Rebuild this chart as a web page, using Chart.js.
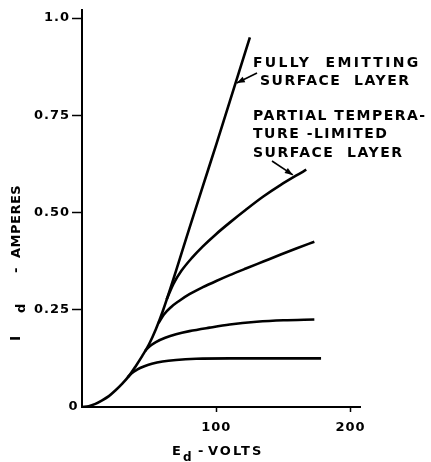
<!DOCTYPE html>
<html>
<head>
<meta charset="utf-8">
<script src="https://cdn.jsdelivr.net/npm/chart.js@4/dist/chart.umd.min.js"></script>
<style>
html,body{margin:0;padding:0;background:#fff;}
canvas{display:block;}
</style>
</head>
<body>
<canvas id="c" width="431" height="462"></canvas>
<script>
// ---- data ----
const voltsFull = [0, 5, 10, 15, 20, 25, 30, 35, 40, 45, 50, 55, 60, 70, 80, 90, 100, 110, 125];
const ampsFull  = [0, 0.002, 0.008, 0.017, 0.028, 0.043, 0.060, 0.080, 0.105, 0.132, 0.162, 0.200, 0.245, 0.350, 0.460, 0.568, 0.675, 0.785, 0.950];

const volts1 = [34, 37, 41, 46, 52, 60, 70, 85, 110, 178];
const amps1  = [0.076, 0.087, 0.096, 0.104, 0.111, 0.117, 0.121, 0.124, 0.125, 0.125];

const volts2 = [47, 50, 55, 62, 70, 80, 95, 110, 130, 150, 173];
const amps2  = [0.144, 0.155, 0.167, 0.178, 0.187, 0.195, 0.204, 0.212, 0.219, 0.223, 0.225];

const volts3 = [57, 61, 66, 72, 80, 90, 100, 110, 122, 135, 148, 160, 173];
const amps3  = [0.216, 0.238, 0.256, 0.272, 0.290, 0.308, 0.324, 0.339, 0.356, 0.374, 0.392, 0.408, 0.425];

const volts4 = [63, 68, 74, 82, 90, 100, 110, 122, 135, 148, 160, 167];
const amps4  = [0.276, 0.316, 0.350, 0.384, 0.413, 0.445, 0.474, 0.507, 0.541, 0.571, 0.596, 0.610];

const yTickValues = [0, 0.25, 0.5, 0.75, 1.0];
const yTickLabels = ['0', '0.25', '0.50', '0.75', '1.0'];
const xTickValues = [0, 100, 200];
const xTickLabels = ['', '100', '200'];

const annotationFully = ['FULLY  EMITTING', 'SURFACE  LAYER'];
const annotationPartial = ['PARTIAL TEMPERA-', 'TURE -LIMITED', 'SURFACE  LAYER'];
const arrowFullyTip = [114.5, 0.833];
const arrowPartialTip = [157, 0.594];

const xTitleParts = ['E', 'd', '-', 'VOLTS'];
const yTitleParts = ['I', 'd', '-', 'AMPERES'];

// ---- chart ----
const FONT = "'DejaVu Sans', sans-serif";
const toPts = (xs, ys) => xs.map((x, i) => ({x: x, y: ys[i]}));
const lineDs = (xs, ys) => ({
  data: toPts(xs, ys),
  borderColor: '#000',
  borderWidth: 2.6,
  pointRadius: 0,
  fill: false,
  cubicInterpolationMode: 'monotone'
});

function drawArrow(ctx, x0, y0, x1, y1) {
  ctx.beginPath();
  ctx.moveTo(x0, y0);
  ctx.lineTo(x1, y1);
  ctx.lineWidth = 1.6;
  ctx.stroke();
  const a = Math.atan2(y1 - y0, x1 - x0);
  const L = 8, W = 3;
  ctx.beginPath();
  ctx.moveTo(x1, y1);
  ctx.lineTo(x1 - L * Math.cos(a) + W * Math.sin(a), y1 - L * Math.sin(a) - W * Math.cos(a));
  ctx.lineTo(x1 - L * Math.cos(a) - W * Math.sin(a), y1 - L * Math.sin(a) + W * Math.cos(a));
  ctx.closePath();
  ctx.fill();
}

const textPlugin = {
  id: 'texts',
  beforeDraw(chart) { chart.ctx.letterSpacing = '1px'; },
  afterDraw(chart) {
    const ctx = chart.ctx;
    const xs = chart.scales.x, ys = chart.scales.y;
    ctx.save();
    ctx.fillStyle = '#000';
    ctx.strokeStyle = '#000';

    // y-axis zero label
    ctx.letterSpacing = '0px';
    ctx.font = 'bold 13px ' + FONT;
    ctx.textAlign = 'center';
    ctx.textBaseline = 'middle';
    ctx.fillText(yTickLabels[0], xs.left - 9, ys.getPixelForValue(0));

    // x title
    ctx.textAlign = 'left';
    ctx.textBaseline = 'alphabetic';
    ctx.letterSpacing = '2px';
    ctx.font = 'bold 13px ' + FONT;
    ctx.fillText(xTitleParts[0], 172, 455);
    ctx.font = 'bold 12px ' + FONT;
    ctx.fillText(xTitleParts[1], 183, 461);
    ctx.font = 'bold 13px ' + FONT;
    ctx.fillText(xTitleParts[2], 198, 455);
    ctx.fillText(xTitleParts[3], 208, 455);

    // y title (rotated)
    ctx.save();
    ctx.translate(20, 347);
    ctx.rotate(-Math.PI / 2);
    ctx.letterSpacing = '0.5px';
    ctx.font = 'bold 14px ' + FONT;
    ctx.fillText(yTitleParts[0], 6, 0);
    ctx.font = 'bold 13px ' + FONT;
    ctx.fillText(yTitleParts[1], 34, 5);
    ctx.font = 'bold 13px ' + FONT;
    ctx.fillText(yTitleParts[2], 74, 0);
    ctx.fillText(yTitleParts[3], 89, 0);
    ctx.restore();

    // annotations
    ctx.font = 'bold 14px ' + FONT;
    ctx.letterSpacing = '2.3px';
    ctx.fillText(annotationFully[0], 253, 67);
    ctx.letterSpacing = '1.5px';
    ctx.fillText(annotationFully[1], 260, 85);
    ctx.fillText(annotationPartial[0], 253, 120);
    ctx.fillText(annotationPartial[1], 253, 138);
    ctx.fillText(annotationPartial[2], 253, 156.5);

    ctx.letterSpacing = '0px';
    drawArrow(ctx, 257, 73, xs.getPixelForValue(arrowFullyTip[0]) + 1, ys.getPixelForValue(arrowFullyTip[1]));
    drawArrow(ctx, 272, 161, xs.getPixelForValue(arrowPartialTip[0]), ys.getPixelForValue(arrowPartialTip[1]) - 1);
    ctx.restore();
  }
};

new Chart(document.getElementById('c'), {
  type: 'line',
  data: {
    datasets: [
      lineDs(voltsFull, ampsFull),
      lineDs(volts1, amps1),
      lineDs(volts2, amps2),
      lineDs(volts3, amps3),
      lineDs(volts4, amps4)
    ]
  },
  options: {
    responsive: false,
    animation: false,
    devicePixelRatio: 1,
    layout: { padding: { top: 10, right: 71, left: 0, bottom: 0 } },
    plugins: { legend: { display: false }, tooltip: { enabled: false } },
    scales: {
      x: {
        type: 'linear',
        min: 0,
        max: 207,
        afterBuildTicks: s => { s.ticks = xTickValues.map(v => ({ value: v })); },
        afterFit: s => { s.height = 55; },
        grid: {
          drawOnChartArea: false,
          drawTicks: true,
          tickLength: 5,
          tickWidth: 1.5,
          tickColor: c => (c.tick && c.tick.value === 0) ? 'rgba(0,0,0,0)' : '#000'
        },
        border: { color: '#000', width: 2 },
        ticks: {
          padding: 8,
          color: '#000',
          maxRotation: 0,
          autoSkip: false,
          font: { family: FONT, size: 13, weight: 'bold' },
          callback: v => { const i = xTickValues.indexOf(v); return i >= 0 ? xTickLabels[i] : ''; }
        }
      },
      y: {
        type: 'linear',
        min: 0,
        max: 1.0206,
        afterBuildTicks: s => { s.ticks = yTickValues.map(v => ({ value: v })); },
        afterFit: s => { s.width = 82; },
        grid: {
          drawOnChartArea: false,
          drawTicks: true,
          tickLength: 10,
          tickWidth: 1.5,
          tickColor: c => (c.tick && c.tick.value === 0) ? 'rgba(0,0,0,0)' : '#000'
        },
        border: { color: '#000', width: 2 },
        ticks: {
          padding: 2,
          color: '#000',
          autoSkip: false,
          font: { family: FONT, size: 13, weight: 'bold' },
          callback: v => { const i = yTickValues.indexOf(v); return i > 0 ? yTickLabels[i] : ''; }
        }
      }
    }
  },
  plugins: [textPlugin]
});
</script>
</body>
</html>
